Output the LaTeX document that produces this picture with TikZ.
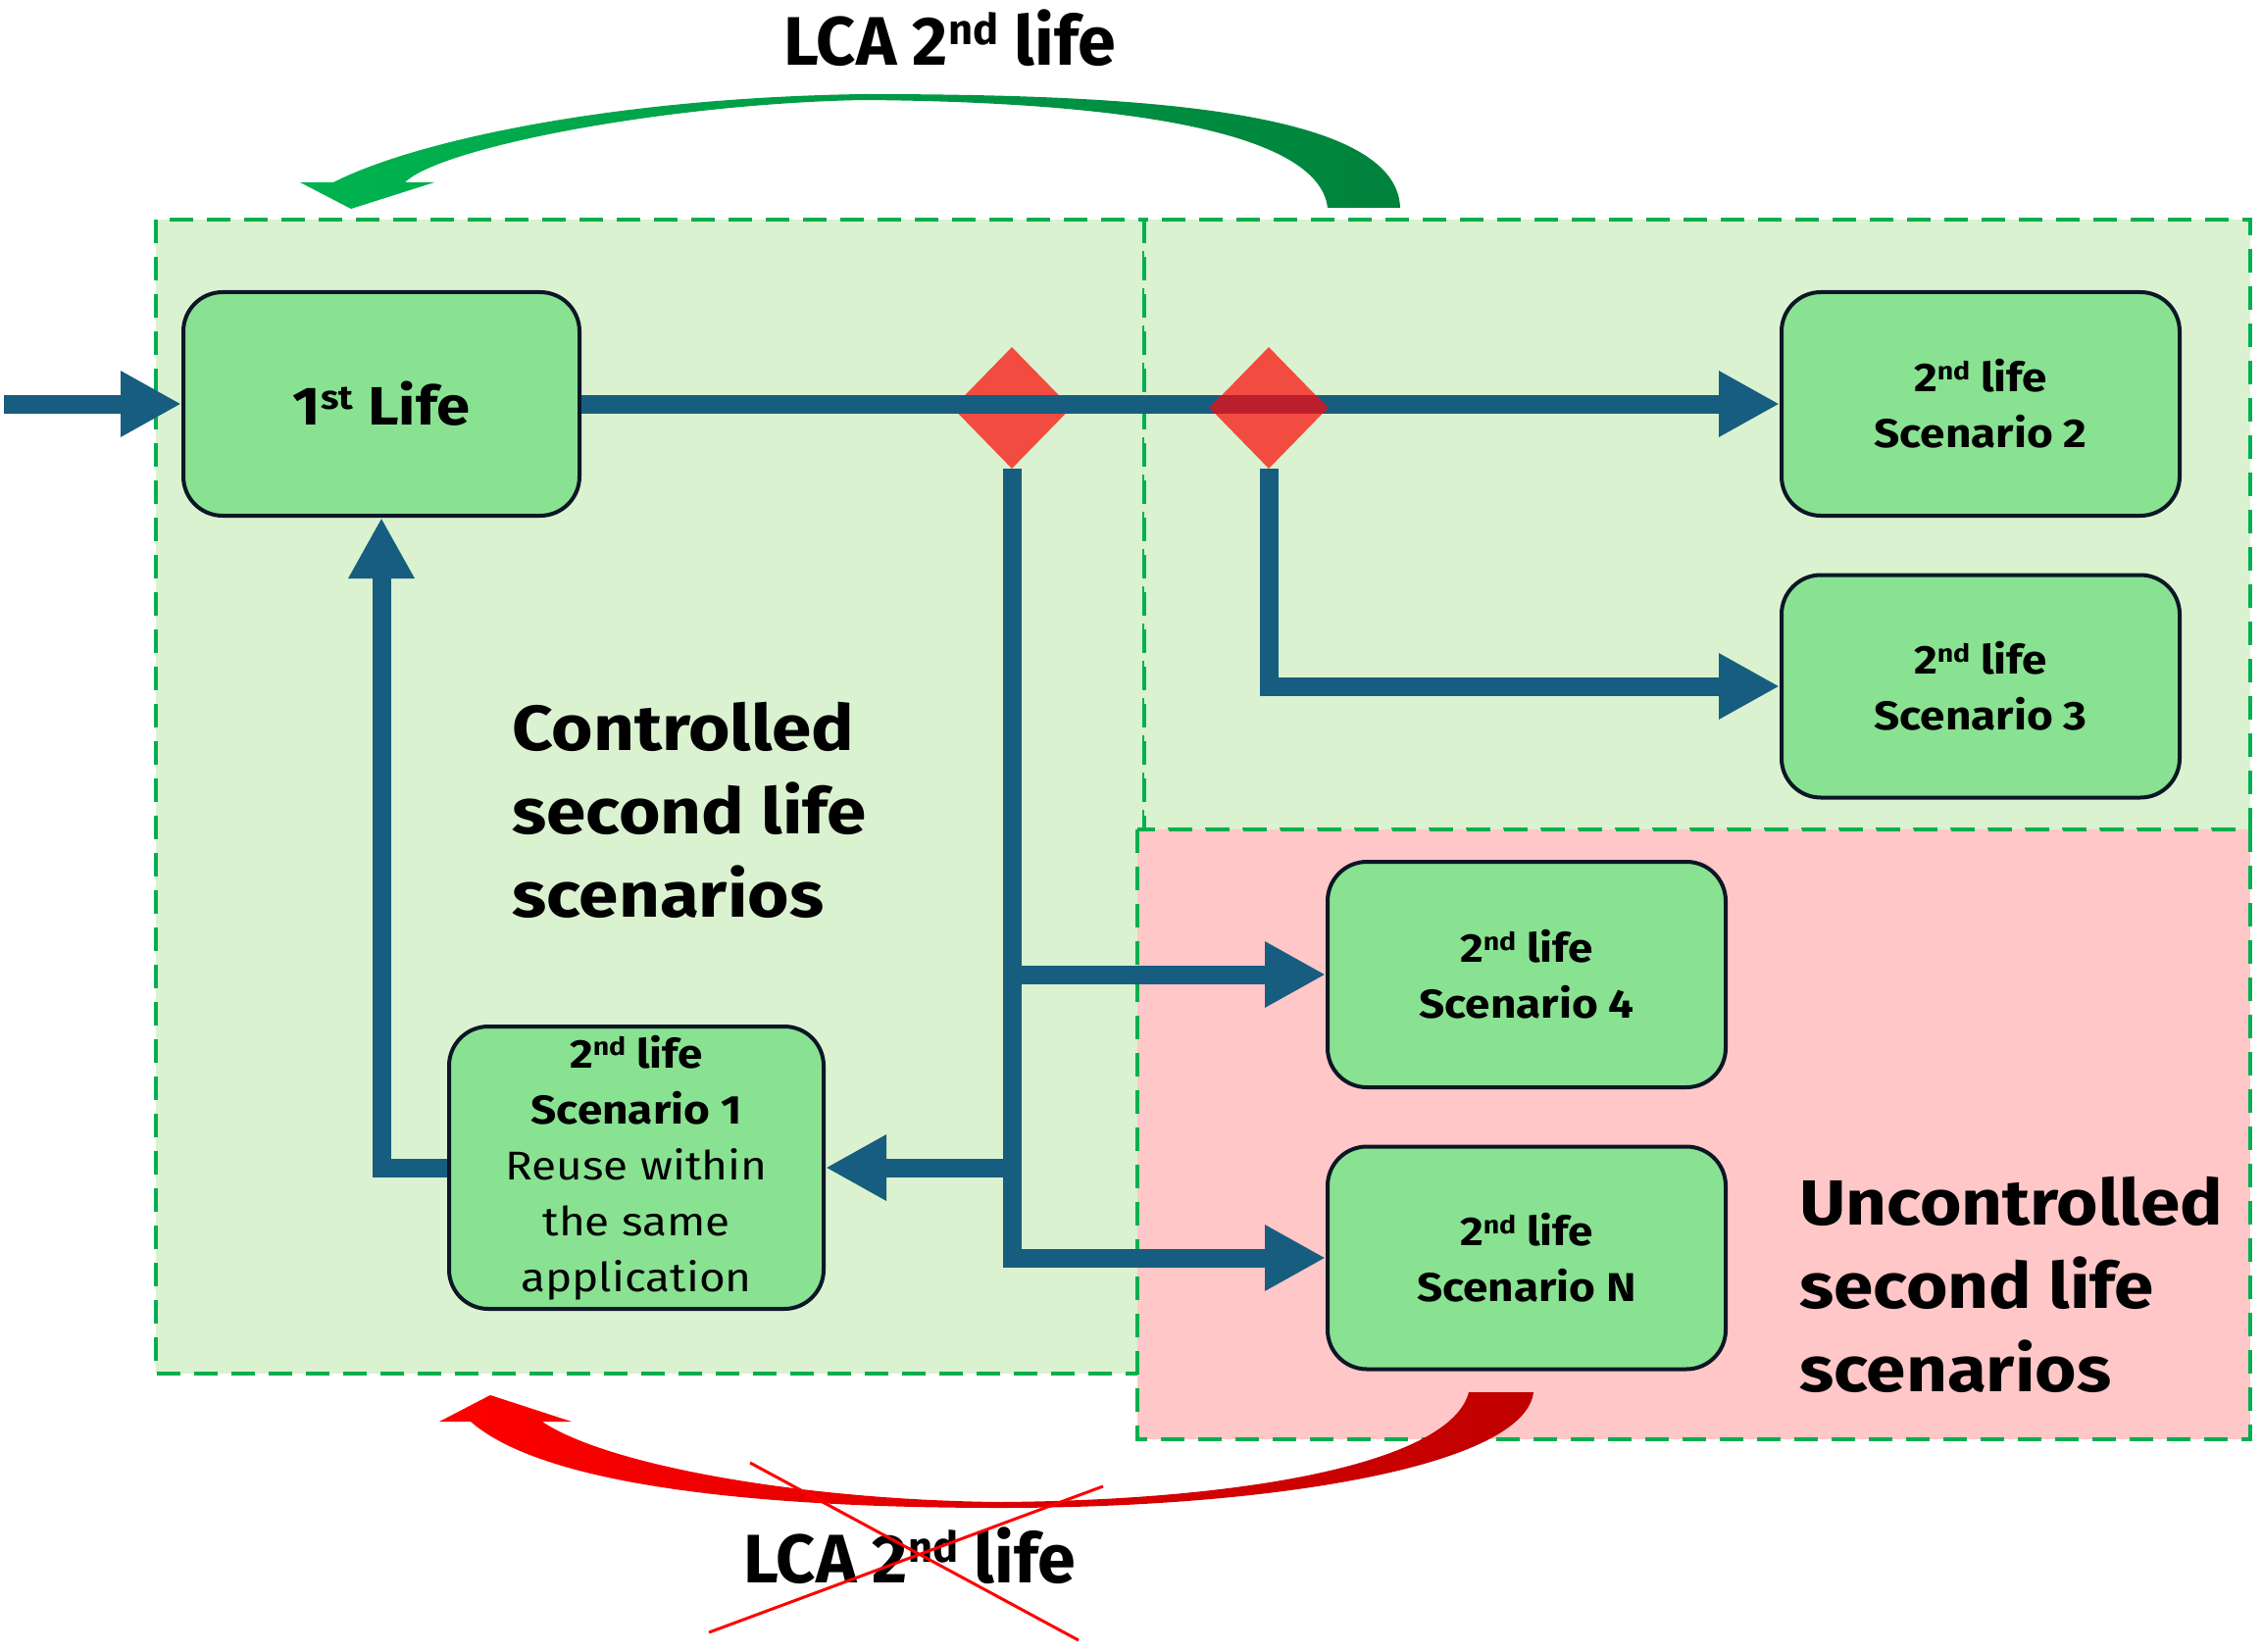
\documentclass[tikz,border=0pt]{standalone}
\usepackage{fontspec}
\setmainfont{Fira Sans}[FakeStretch=1.12]
\newfontfamily\lcafont{Fira Sans}
\usetikzlibrary{arrows.meta,shapes.geometric}
\pgfdeclarelayer{fg}
\pgfsetlayers{main,fg}
\makeatletter
\newcommand\supr[1]{\raisebox{0.3\dimexpr\f@size pt\relax}{\fontsize{\the\dimexpr0.62\dimexpr\f@size pt\relax\relax}{0pt}\selectfont #1}}
\makeatother
\definecolor{flowc}{RGB}{23,93,127}
\definecolor{boxfill}{RGB}{137,226,146}
\definecolor{boxline}{RGB}{12,22,38}
\definecolor{rgreen}{RGB}{218,242,208}
\definecolor{rpink}{RGB}{255,199,199}
\definecolor{dashg}{RGB}{0,176,80}
\definecolor{diam}{RGB}{242,75,63}
\definecolor{overlap}{RGB}{187,30,45}
\definecolor{arcgL}{RGB}{0,180,80}
\definecolor{arcgR}{RGB}{0,130,60}
\definecolor{arcrL}{RGB}{255,0,0}
\definecolor{arcrR}{RGB}{192,0,0}
\begin{document}
\begin{tikzpicture}[x=1pt,y=-1pt,
  region/.style={draw=dashg, line width=4pt, dash pattern=on 24pt off 14pt},
  box/.style={draw=boxline, line width=4pt, fill=boxfill, rounded corners=40pt,
    inner sep=0pt, align=center, font=\bfseries\fontsize{41}{57}\selectfont},
  flow/.style={draw=flowc, line width=19pt, -{Triangle[length=62pt,width=63pt]}},
  gate/.style={diamond, fill=diam, inner sep=0pt, minimum width=121pt, minimum height=124pt},
  bigtext/.style={align=left, inner sep=0pt, font=\bfseries\fontsize{65}{85}\selectfont},
  lcatext/.style={inner sep=0pt, font=\lcafont\bfseries\fontsize{70}{80}\selectfont}
]
\useasboundingbox (0,0) rectangle (2307,1685);
% regions
\draw[region, fill=rgreen] (159,224) rectangle (1167,1401);
\draw[region, fill=rgreen] (1167,224) rectangle (2295,846);
\draw[region, fill=rpink] (1160,846) rectangle (2295,1468);

% green arc (LCA 2nd life)
\shade[left color=arcgL, right color=arcgR]
  (1428,212) .. controls (1425,110) and (1150,96) .. (880,96)
  .. controls (620,100) and (420,145) .. (340,186)
  -- (306,186) -- (358,213) -- (443,186) -- (413,186)
  .. controls (450,150) and (680,106) .. (880,102)
  .. controls (1150,104) and (1345,135) .. (1354,212) -- cycle;

% red arc (crossed)
\shade[left color=arcrL, right color=arcrR]
  (1564,1420) .. controls (1555,1495) and (1300,1538) .. (1020,1538)
  .. controls (800,1538) and (560,1520) .. (480,1450)
  -- (448,1450) -- (500,1423) -- (583,1450) -- (553,1450)
  .. controls (620,1495) and (820,1530) .. (1020,1532)
  .. controls (1280,1530) and (1480,1490) .. (1498,1420) -- cycle;

% boxes
\node[box, minimum width=404pt, minimum height=228pt, font=\bfseries\fontsize{55}{66}\selectfont]
  (life1) at (389,412) {1\supr{st} Life};
\node[box, minimum width=406pt, minimum height=228pt] (s2) at (2020,412) {2\supr{nd} life\\Scenario 2};
\node[box, minimum width=406pt, minimum height=227pt] (s3) at (2020,700) {2\supr{nd} life\\Scenario 3};
\node[box, minimum width=406pt, minimum height=230pt] (s4) at (1557,994) {2\supr{nd} life\\Scenario 4};
\node[box, minimum width=406pt, minimum height=227pt] (sN) at (1557,1283) {2\supr{nd} life\\Scenario N};
\node[box, minimum width=382pt, minimum height=288pt] (s1) at (649,1191)
  {2\supr{nd} life\\Scenario 1\\\mdseries Reuse within\\\mdseries the same\\\mdseries application};

% gates
\node[gate] (d1) at (1032,416) {};
\begin{pgfonlayer}{fg}
\node[gate] (d2) at (1294,416) {};
\begin{scope}
  \clip (d2.north) -- (d2.east) -- (d2.south) -- (d2.west) -- cycle;
  \fill[overlap] (1200,402.5) rectangle (1400,421.5);
\end{scope}
\end{pgfonlayer}

% input
\coordinate (in) at (4,412);
\draw[flow] (in) -- (life1.west);
% main line
\draw[flow] (life1.east) -- (s2.west);
% from gate 2
\draw[flow] (d2.south) |- (s3.west);
% from gate 1
\draw[flow] (d1.south) |- (sN.west);
\draw[flow] (d1.south |- s4.west) -- (s4.west);
\draw[flow] (d1.south |- s1.east) -- (s1.east);
% return to first life
\draw[flow] (s1.west) -| (life1.south);

% texts
\node[bigtext, anchor=north west] (ctl) at (522,716) {Controlled\\second life\\scenarios};
\node[bigtext, anchor=north west] (unc) at (1835,1200) {Uncontrolled\\second life\\scenarios};
\node[lcatext, anchor=base] (lcatop) at (969,67) {LCA 2\supr{nd} life};
\node[lcatext, anchor=base] (lcabot) at (928,1614) {LCA 2\supr{nd} life};

% cross
\draw[red, line width=3pt] (765,1492) -- (1100,1673);
\draw[red, line width=3pt] (723,1665) -- (1125,1516);
\end{tikzpicture}
\end{document}
